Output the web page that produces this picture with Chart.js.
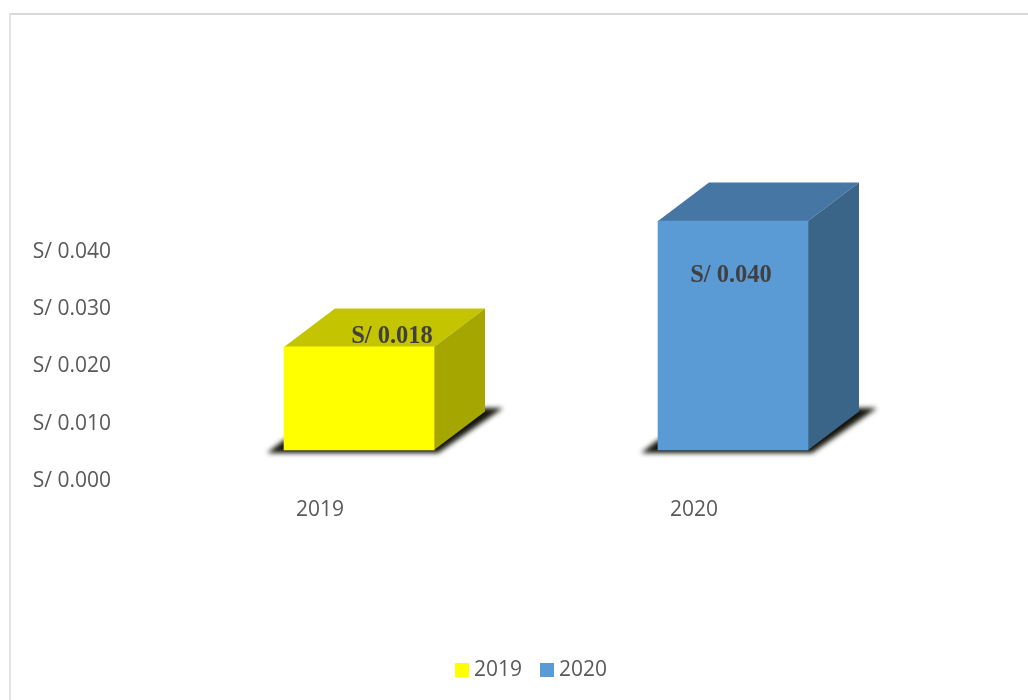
<!DOCTYPE html>
<html>
<head>
<meta charset="utf-8">
<title>2019 vs 2020</title>
<script src="https://cdn.jsdelivr.net/npm/chart.js@4"></script>
<style>
  html, body { margin: 0; background: #fff; }
  #wrap { position: relative; width: 1028px; height: 700px; overflow: hidden; }
  #frame { position: absolute; left: 9px; top: 13px; right: -4px; bottom: -4px;
           border-top: 2px solid #d9d9d9; border-left: 2px solid #e3e3e3; }
  canvas { position: absolute; left: 0; top: 0; }
</style>
</head>
<body>
<div id="wrap">
  <div id="frame"></div>
  <canvas id="chart" width="1028" height="700"></canvas>
</div>
<script>
const categories = ['2019', '2020'];
const values = [0.018, 0.040];
const frontColors = ['#FFFF00', '#5B9BD5'];
const topColors = ['#C4C400', '#4676A3'];
const sideColors = ['#A6A600', '#3A6488'];

const money = v => 'S/ ' + v.toFixed(3);
const textFont = '"Open Sans", sans-serif';

// the fake 3D look: bars sit up and right of their axis slot, like in the Excel original
const shiftX = 39, shiftY = -31;
const depthX = 51, depthY = -38.5;
const labelNudge = [[33, -10], [-2, 55]];

const box3d = {
  id: 'box3d',
  beforeDatasetsDraw(chart) {
    const ctx = chart.ctx;
    ctx.save();
    ctx.translate(shiftX, shiftY);
    chart.getDatasetMeta(0).data.forEach((bar, i) => {
      const left = bar.x - bar.width / 2, right = bar.x + bar.width / 2;
      const top = bar.y, base = bar.base;

      // floor shadow
      ctx.save();
      ctx.filter = 'blur(2.5px)';
      ctx.fillStyle = '#14140c';
      ctx.beginPath();
      ctx.moveTo(left - 17, base + 3);
      ctx.lineTo(right + 4, base + 3);
      ctx.lineTo(right + 69, base - 42);
      ctx.lineTo(right + 45, base - 42);
      ctx.lineTo(left, base - 10);
      ctx.closePath();
      ctx.fill();
      ctx.restore();

      ctx.fillStyle = topColors[i];
      ctx.beginPath();
      ctx.moveTo(left, top);
      ctx.lineTo(left + depthX, top + depthY);
      ctx.lineTo(right + depthX, top + depthY);
      ctx.lineTo(right, top);
      ctx.closePath();
      ctx.fill();

      ctx.fillStyle = sideColors[i];
      ctx.beginPath();
      ctx.moveTo(right, top);
      ctx.lineTo(right + depthX, top + depthY);
      ctx.lineTo(right + depthX, base + depthY);
      ctx.lineTo(right, base);
      ctx.closePath();
      ctx.fill();
    });
  },
  afterDatasetsDraw(chart) {
    const ctx = chart.ctx;
    ctx.restore();

    // value labels
    ctx.save();
    ctx.font = 'bold 24.5px "Liberation Serif", serif';
    ctx.fillStyle = '#404040';
    ctx.textAlign = 'center';
    ctx.textBaseline = 'middle';
    chart.getDatasetMeta(0).data.forEach((bar, i) => {
      ctx.fillText(money(values[i]), bar.x + shiftX + labelNudge[i][0], bar.y + shiftY + labelNudge[i][1]);
    });
    ctx.restore();
  }
};

// legend squares sit closer to their text than the built in legend allows
const bottomLegend = {
  id: 'bottomLegend',
  afterDraw(chart) {
    const ctx = chart.ctx;
    ctx.save();
    ctx.font = '21px ' + textFont;
    ctx.textBaseline = 'middle';
    let x = 455;
    categories.forEach((name, i) => {
      ctx.fillStyle = frontColors[i];
      ctx.fillRect(x, 663, 14, 14);
      ctx.fillStyle = '#595959';
      ctx.fillText(name, x + 19, 670);
      x += 85;
    });
    ctx.restore();
  }
};

new Chart(document.getElementById('chart'), {
  type: 'bar',
  data: {
    labels: categories,
    datasets: [{
      data: values,
      backgroundColor: frontColors,
      barThickness: 150,
      clip: false
    }]
  },
  options: {
    responsive: false,
    animation: false,
    layout: { padding: { left: 32, right: 147, top: 252, bottom: 175 } },
    plugins: { legend: { display: false }, tooltip: { enabled: false } },
    scales: {
      x: {
        grid: { display: false, drawTicks: false },
        border: { display: false },
        ticks: { color: '#595959', font: { family: textFont, size: 21 }, padding: 16 },
        afterFit: s => { s.height = 44; }
      },
      y: {
        min: 0,
        max: 0.04,
        grid: { display: false, drawTicks: false },
        border: { display: false },
        ticks: {
          stepSize: 0.01,
          color: '#595959',
          padding: 22,
          font: { family: textFont, size: 21 },
          callback: v => money(v)
        },
        afterFit: s => { s.width = 101; }
      }
    }
  },
  plugins: [box3d, bottomLegend]
});
</script>
</body>
</html>
